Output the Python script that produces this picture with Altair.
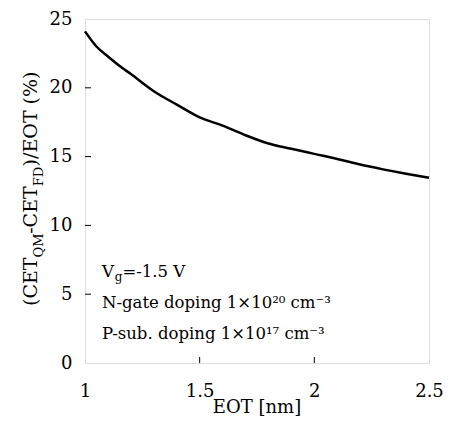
import altair as alt
import pandas as pd

# ---- data ----
eot = [1.0, 1.05, 1.1, 1.15, 1.2, 1.3, 1.4, 1.5, 1.6, 1.7, 1.8, 1.9, 2.0, 2.1, 2.2, 2.3, 2.4, 2.5]
ratio = [24.1, 23.0, 22.28, 21.6, 21.0, 19.75, 18.78, 17.85, 17.25, 16.55, 15.95, 15.57, 15.2, 14.83, 14.42, 14.07, 13.75, 13.46]
x_ticks = [1, 1.5, 2, 2.5]
y_ticks = [0, 5, 10, 15, 20, 25]
notes = ["N-gate doping 1\u00d710\u00b2\u2070 cm\u207b\u00b3",
         "P-sub. doping 1\u00d710\u00b9\u2077 cm\u207b\u00b3"]

W, H = 344, 344
FONT = "DejaVu Serif"

# DejaVu (Vera) Serif advance widths (per 1000 em)
ADV = {" ": 318, "%": 948, "(": 390, ")": 390, "-": 338, ".": 318, "/": 337,
       "=": 838, "\u00d7": 838, "C": 734, "D": 830, "E": 730, "F": 694,
       "M": 995, "O": 820, "Q": 820, "T": 704, "V": 770, "g": 640,
       "1": 636, "5": 636}


def width(txt, size):
    return sum(ADV.get(ch, 600) for ch in txt) * size / 1000.0


def pieces(parts, x0, y0, horizontal=True):
    """parts: list of (text, size, shift) ; shift positive = lowered."""
    rows = []
    pos = 0.0
    for txt, size, shift in parts:
        lead = len(txt) - len(txt.lstrip(" "))
        off = width(txt[:lead], size)
        shown = txt.lstrip(" ")
        if horizontal:
            rows.append({"px": x0 + pos + off, "py": y0 + shift, "t": shown, "fs": size})
        else:
            rows.append({"px": x0 + shift, "py": y0 - pos - off, "t": shown, "fs": size})
        pos += width(txt, size)
    return rows


A = 16.5
ann_rows = []
ann_rows += pieces([("V", A, 0), ("g", 12, 4), ("=-1.5 V", A, 0)], 17, 258)
ann_rows.append({"px": 17, "py": 289, "t": notes[0], "fs": A})
ann_rows.append({"px": 17, "py": 320, "t": notes[1], "fs": A})
ann_df = pd.DataFrame(ann_rows)

T = 19
TS = 13
title_rows = pieces([("(CET", T, 0), ("QM", TS, 6), ("-CET", T, 0), ("FD", TS, 6), (")/EOT (%)", T, 0)],
                    -48, 287, horizontal=False)
title_df = pd.DataFrame(title_rows)

xt_df = pd.DataFrame([{"px": W / 2, "py": H + 50, "t": "EOT [nm]", "fs": 18}])

curve = pd.DataFrame({"eot": eot, "ratio": ratio})
xs = alt.Scale(domain=[1, 2.5], nice=False)
ys = alt.Scale(domain=[0, 25], nice=False)

line = alt.Chart(curve).mark_line(color="black", strokeWidth=2.5, interpolate="monotone").encode(
    x=alt.X("eot:Q", scale=xs,
            axis=alt.Axis(values=x_ticks, title=None, ticks=False, domain=False, grid=False,
                          labelFont=FONT, labelFontSize=18, labelColor="black",
                          labelPadding=19, labelFlush=False, format="~g")),
    y=alt.Y("ratio:Q", scale=ys,
            axis=alt.Axis(values=y_ticks, title=None, ticks=False, domain=False, grid=False,
                          labelFont=FONT, labelFontSize=18, labelColor="black",
                          labelPadding=13, labelFlush=False)),
)

xtick_df = pd.DataFrame({"v": x_ticks[1:-1]})
xtick = alt.Chart(xtick_df).mark_rule(color="black", strokeWidth=1).encode(
    x=alt.X("v:Q", scale=xs), y=alt.value(H), y2=alt.value(H - 6))
ytick_df = pd.DataFrame({"v": y_ticks[1:-1]})
ytick = alt.Chart(ytick_df).mark_rule(color="black", strokeWidth=1).encode(
    y=alt.Y("v:Q", scale=ys), x=alt.value(0), x2=alt.value(6))


def text_layer(df, angle=0, align="left"):
    return alt.Chart(df).mark_text(font=FONT, color="black", align=align,
                                   baseline="alphabetic", angle=angle).encode(
        x=alt.X("px:Q", scale=None), y=alt.Y("py:Q", scale=None),
        text="t:N", size=alt.Size("fs:Q", scale=None, legend=None))


ann = text_layer(ann_df)
ttl = text_layer(title_df, angle=270)
xttl = text_layer(xt_df, align="center")

chart = alt.layer(line, xtick, ytick, ann, ttl, xttl).properties(
    width=W, height=H,
    autosize=alt.AutoSizeParams(type="none"),
    padding={"left": 77, "top": 11, "right": 20, "bottom": 55},
).configure_view(stroke="black", strokeWidth=1.3).configure(background="white")

chart.save("out.html", embed_options={"renderer": "svg", "actions": False})
